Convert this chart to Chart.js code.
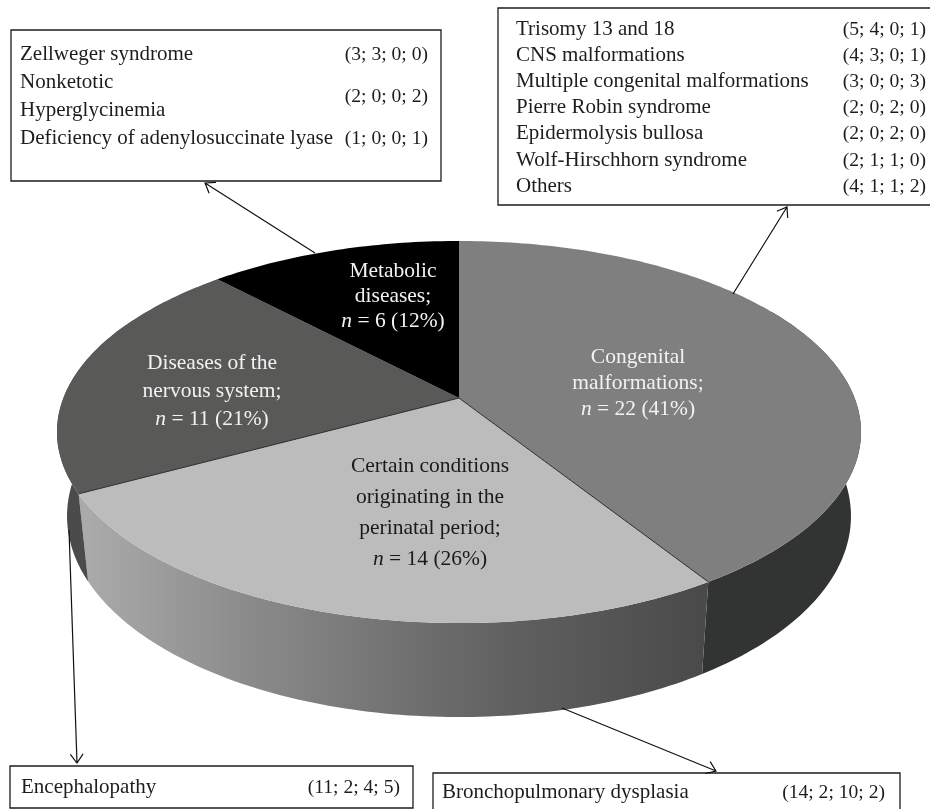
<!DOCTYPE html>
<html><head><meta charset="utf-8">
<style>html,body{margin:0;padding:0;background:#fff}canvas{display:block}</style>
<script src="https://cdn.jsdelivr.net/npm/chart.js@4/dist/chart.umd.min.js"></script>
</head><body>
<canvas id="c" width="930" height="809"></canvas>
<script>
const categories = ["Congenital malformations","Certain conditions originating in the perinatal period","Diseases of the nervous system","Metabolic diseases"];
const patientCounts = [22,14,11,6];
const sliceColors = ["#7f7f7f","#bcbcbc","#595958","#000000"];
const nLabels = ["= 22 (41%)","= 14 (26%)","= 11 (21%)","= 6 (12%)"];
const sliceLines = [["Congenital","malformations;"],["Certain conditions","originating in the","perinatal period;"],["Diseases of the","nervous system;"],["Metabolic","diseases;"]];
const metabolicRows = [["Zellweger syndrome","(3; 3; 0; 0)"],["Nonketotic","(2; 0; 0; 2)"],["Hyperglycinemia",""],["Deficiency of adenylosuccinate lyase","(1; 0; 0; 1)"]];
const congenitalRows = [["Trisomy 13 and 18","(5; 4; 0; 1)"],["CNS malformations","(4; 3; 0; 1)"],["Multiple congenital malformations","(3; 0; 0; 3)"],["Pierre Robin syndrome","(2; 0; 2; 0)"],["Epidermolysis bullosa","(2; 0; 2; 0)"],["Wolf-Hirschhorn syndrome","(2; 1; 1; 0)"],["Others","(4; 1; 1; 2)"]];
const nervousRows = [["Encephalopathy","(11; 2; 4; 5)"]];
const perinatalRows = [["Bronchopulmonary dysplasia","(14; 2; 10; 2)"]];

const FONT = '"Liberation Serif"';
const ROW_SIZE = 21, VALUE_SIZE = 19.6, SLICE_SIZE = 21.5;
const view = {cx:459, cy:398, a:395.6, b:185, k:-0.178};
function warp(t){
  const f=Math.min(Math.max(t/(2*Math.PI),0),1);
  return t-(4.4*Math.PI/180)*f*Math.pow(Math.sin(t/2)**2,0.15);
}
function rim(t0){
  const t=warp(t0), u=Math.sin(t), v=-Math.cos(t), d=1+view.k*v;
  return {x:view.cx+view.a*u/d, y:view.cy+view.b*v/d, v};
}
function base(t){
  const p=rim(t);
  return {x:view.cx+(p.x-view.cx)*0.975, y:p.y+82+12*p.v};
}
function sideFill(ctx,i){
  if(i===0) return "#323433";
  if(i===2) return "#4b4b4b";
  const g=ctx.createLinearGradient(88,0,703,0);
  g.addColorStop(0,"#a9aaa9"); g.addColorStop(0.25,"#8c8c8c");
  g.addColorStop(0.5,"#717271"); g.addColorStop(0.7,"#5e5f5e");
  g.addColorStop(1,"#4a4a4a");
  return g;
}
function text(ctx,s,x,y,align,color,size){
  ctx.font=size+"px "+FONT; ctx.textAlign=align; ctx.textBaseline="alphabetic"; ctx.fillStyle=color;
  ctx.fillText(s,x,y);
}
function nLine(ctx,s,cx,y,color){
  const size=SLICE_SIZE;
  ctx.textBaseline="alphabetic"; ctx.textAlign="left"; ctx.fillStyle=color;
  ctx.font=size+"px "+FONT; const w2=ctx.measureText(" "+s).width;
  ctx.font="italic "+size+"px "+FONT; const w1=ctx.measureText("n").width;
  const x=cx-(w1+w2)/2;
  ctx.fillText("n",x,y);
  ctx.font=size+"px "+FONT; ctx.fillText(" "+s,x+w1,y);
}
function arrow(ctx,x0,y0,x1,y1){
  const an=Math.atan2(y1-y0,x1-x0), L=11, A=0.62;
  ctx.strokeStyle="#111"; ctx.lineWidth=1.2; ctx.beginPath();
  ctx.moveTo(x0,y0); ctx.lineTo(x1,y1);
  ctx.moveTo(x1-L*Math.cos(an-A),y1-L*Math.sin(an-A)); ctx.lineTo(x1,y1);
  ctx.lineTo(x1-L*Math.cos(an+A),y1-L*Math.sin(an+A)); ctx.stroke();
}
function box(ctx,x0,y0,x1,y1,rows,tx,vx,ys,vys){
  ctx.fillStyle="#fff"; ctx.strokeStyle="#1c1c1c"; ctx.lineWidth=1.3;
  ctx.beginPath(); ctx.rect(x0,y0,x1-x0,y1-y0); ctx.fill(); ctx.stroke();
  rows.forEach((r,i)=>{ text(ctx,r[0],tx,ys[i],"left","#1d1d1b",ROW_SIZE);
    if(r[1]) text(ctx,r[1],vx,(vys||ys)[i],"right","#1d1d1b",VALUE_SIZE); });
}
const pie3d = {
  id:"pie3d",
  beforeDatasetDraw(chart,args){
    const ctx=chart.ctx, arcs=chart.getDatasetMeta(args.index).data, off=Math.PI/2;
    const lo=60*Math.PI/180, hi=300*Math.PI/180, step=Math.PI/180;
    ctx.save();
    arcs.forEach((arc,i)=>{
      const s=Math.max(arc.startAngle+off,lo), e=Math.min(arc.endAngle+off,hi);
      if(e<=s) return;
      ctx.beginPath();
      for(let t=s;t<e;t+=step){const p=rim(t);ctx.lineTo(p.x,p.y);}
      let p=rim(e);ctx.lineTo(p.x,p.y);
      p=base(e);ctx.lineTo(p.x,p.y);
      for(let t=e;t>s;t-=step){const q=base(t);ctx.lineTo(q.x,q.y);}
      p=base(s);ctx.lineTo(p.x,p.y);
      ctx.closePath();
      ctx.fillStyle=sideFill(ctx,i); ctx.fill();
    });
    arcs.forEach((arc,i)=>{
      const s=arc.startAngle+off, e=arc.endAngle+off;
      ctx.beginPath(); ctx.moveTo(view.cx,view.cy);
      for(let t=s;t<e;t+=step){const p=rim(t);ctx.lineTo(p.x,p.y);}
      const p=rim(e);ctx.lineTo(p.x,p.y); ctx.closePath();
      ctx.fillStyle=arc.options.backgroundColor; ctx.fill();
    });
    [0,1].forEach(i=>{
      const p=rim(arcs[i].endAngle+off);
      ctx.strokeStyle="#2a2a2a"; ctx.lineWidth=1; ctx.beginPath();
      ctx.moveTo(view.cx,view.cy); ctx.lineTo(p.x,p.y); ctx.stroke();
    });
    ctx.restore();
    return false;
  },
  afterDatasetsDraw(chart){
    const ctx=chart.ctx;
    ctx.save();
    const white="#f2f2f2", dark="#1a1a1a";
    const spots=[[638,[363,389],415,white],[430,[472,503,534],565,dark],[212,[369,397],425,white],[393,[277,302],327,white]];
    spots.forEach((sp,i)=>{
      sliceLines[i].forEach((l,j)=>text(ctx,l,sp[0],sp[1][j],"center",sp[3],SLICE_SIZE));
      nLine(ctx,nLabels[i],sp[0],sp[2],sp[3]);
    });
    box(ctx,11,30,441,181,metabolicRows,20,428,[60,88,116,144],[60,102,0,144]);
    box(ctx,498,8,932,205,congenitalRows,516,926,[35,61,87,113,139,166,192]);
    box(ctx,10,766,413,808,nervousRows,21,400,[793]);
    box(ctx,433,773,900,810,perinatalRows,442,885,[798]);
    arrow(ctx,315,253,205,183);
    arrow(ctx,733,294,787,207);
    arrow(ctx,69,530,77,763);
    arrow(ctx,562,708,716,771);
    ctx.restore();
  }
};
new Chart(document.getElementById("c"),{
  type:"pie",
  data:{labels:categories,datasets:[{data:patientCounts,backgroundColor:sliceColors,borderWidth:0}]},
  options:{responsive:false,animation:false,devicePixelRatio:1,
    plugins:{legend:{display:false},tooltip:{enabled:false}}},
  plugins:[pie3d]
});
</script>
</body></html>
